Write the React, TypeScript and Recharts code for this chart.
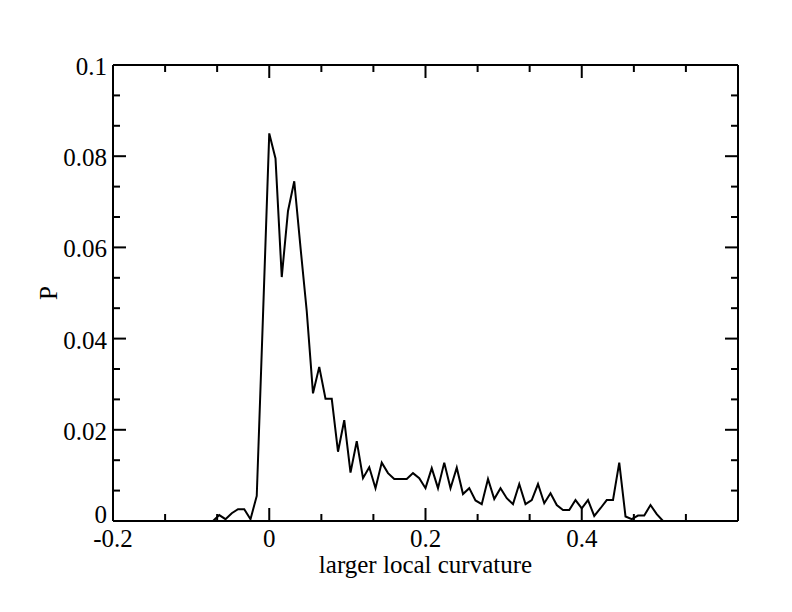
import { LineChart, Line, XAxis, YAxis } from "recharts";

// curvature bin centres (x) and probability (P)
const CURVATURE = [
  -0.072, -0.064, -0.056, -0.048, -0.04, -0.032, -0.024, -0.016, -0.008, 0,
  0.008, 0.016, 0.024, 0.032, 0.04, 0.048, 0.056, 0.064, 0.072, 0.08,
  0.088, 0.096, 0.104, 0.112, 0.12, 0.128, 0.136, 0.144, 0.152, 0.16,
  0.168, 0.176, 0.184, 0.192, 0.2, 0.208, 0.216, 0.224, 0.232, 0.24,
  0.248, 0.256, 0.264, 0.272, 0.28, 0.288, 0.296, 0.304, 0.312, 0.32,
  0.328, 0.336, 0.344, 0.352, 0.36, 0.368, 0.376, 0.384, 0.392, 0.4,
  0.408, 0.416, 0.424, 0.432, 0.44, 0.448, 0.456, 0.464, 0.472, 0.48,
  0.488, 0.496, 0.504,
];

const PROB = [
  0, 0.0013, 0.0004, 0.0017, 0.0026, 0.0026, 0.0004, 0.0055, 0.045, 0.085,
  0.0795, 0.0535, 0.068, 0.0745, 0.06, 0.046, 0.028, 0.0338, 0.0268, 0.0268,
  0.0152, 0.0221, 0.0106, 0.0175, 0.0094, 0.0118, 0.0072, 0.0128, 0.0105, 0.0092,
  0.0092, 0.0092, 0.0105, 0.0094, 0.0072, 0.0116, 0.0072, 0.0128, 0.0072, 0.0117,
  0.0059, 0.0072, 0.0045, 0.0037, 0.0092, 0.0048, 0.0072, 0.005, 0.0037, 0.0081,
  0.0037, 0.0046, 0.0081, 0.0039, 0.0061, 0.0035, 0.0024, 0.0024, 0.0046, 0.0028,
  0.0046, 0.0011, 0.0028, 0.0046, 0.0046, 0.0128, 0.001, 0.0004, 0.0012, 0.0012,
  0.0035, 0.0015, 0,
];

// major (labelled) and minor ticks
const X_MAJOR = [-0.2, 0, 0.2, 0.4];
const X_MAJOR_LABELS = ["-0.2", "0", "0.2", "0.4"];
const X_MINOR = [-0.1333, -0.0667, 0.0667, 0.1333, 0.2667, 0.3333, 0.4667, 0.5333];

const Y_MAJOR = [0, 0.02, 0.04, 0.06, 0.08, 0.1];
const Y_MAJOR_LABELS = ["0", "0.02", "0.04", "0.06", "0.08", "0.1"];
const Y_MINOR = [
  0.00667, 0.01333, 0.02667, 0.03333, 0.04667, 0.05333, 0.06667, 0.07333,
  0.08667, 0.09333,
];

const data = CURVATURE.map((x, i) => ({ x, p: PROB[i] }));

const FONT = "'Liberation Serif', 'Times New Roman', serif";
const FONT_SIZE = 25;
const MAJOR_LEN = 13;
const MINOR_LEN = 7;
const AXIS_LINE = { stroke: "#000", strokeWidth: 2 };

const X_TICKS = [...X_MAJOR, ...X_MINOR].sort((a, b) => a - b);
const Y_TICKS = [...Y_MAJOR, ...Y_MINOR].sort((a, b) => a - b);

function majorIndex(list: number[], v: number) {
  return list.findIndex((m) => Math.abs(m - v) < 1e-9);
}

// ticks point into the plot, like xmgrace
function XTick(props: any) {
  const { x, y, payload, side } = props;
  const idx = majorIndex(X_MAJOR, payload.value);
  const len = idx >= 0 ? MAJOR_LEN : MINOR_LEN;
  const dir = side === "top" ? 1 : -1;
  return (
    <g>
      <line x1={x} y1={y} x2={x} y2={y + dir * len} stroke="#000" strokeWidth={2} />
      {side === "bottom" && idx >= 0 && (
        <text x={x} y={y + 26} textAnchor="middle" fontSize={FONT_SIZE} fontFamily={FONT} fill="#000">
          {X_MAJOR_LABELS[idx]}
        </text>
      )}
    </g>
  );
}

function YTick(props: any) {
  const { x, y, payload, side } = props;
  const idx = majorIndex(Y_MAJOR, payload.value);
  const len = idx >= 0 ? MAJOR_LEN : MINOR_LEN;
  const dir = side === "left" ? 1 : -1;
  return (
    <g>
      <line x1={x} y1={y} x2={x + dir * len} y2={y} stroke="#000" strokeWidth={2} />
      {side === "left" && idx >= 0 && (
        <text
          x={x - 6}
          y={payload.value === 0 ? y + 2 : y + 10}
          textAnchor="end"
          fontSize={FONT_SIZE}
          fontFamily={FONT}
          fill="#000"
        >
          {Y_MAJOR_LABELS[idx]}
        </text>
      )}
    </g>
  );
}

function XTitle(props: any) {
  const { x, y, width } = props.viewBox;
  return (
    <text x={x + width / 2} y={y + 52} textAnchor="middle" fontSize={FONT_SIZE} fontFamily={FONT} fill="#000">
      larger local curvature
    </text>
  );
}

function YTitle(props: any) {
  const { y, height } = props.viewBox;
  const cx = 49;
  const cy = y + height / 2;
  return (
    <text
      x={cx}
      y={cy}
      transform={`rotate(-90, ${cx}, ${cy})`}
      textAnchor="middle"
      fontSize={FONT_SIZE}
      fontFamily={FONT}
      fill="#000"
    >
      P
    </text>
  );
}

export default function App() {
  return (
    <div style={{ width: 776, height: 596, background: "#fff" }}>
      <LineChart
        width={776}
        height={596}
        data={data}
        margin={{ top: 56, right: 45, bottom: 0, left: 0 }}
      >
        <XAxis
          dataKey="x"
          type="number"
          domain={[-0.2, 0.6]}
          allowDataOverflow
          ticks={X_TICKS}
          interval={0}
          height={83}
          tickSize={0}
          tickMargin={0}
          tickLine={false}
          axisLine={AXIS_LINE}
          tick={<XTick side="bottom" />}
          label={XTitle}
        />
        <XAxis
          xAxisId="top"
          dataKey="x"
          orientation="top"
          type="number"
          domain={[-0.2, 0.6]}
          allowDataOverflow
          ticks={X_TICKS}
          interval={0}
          height={1}
          tickSize={0}
          tickMargin={0}
          tickLine={false}
          axisLine={AXIS_LINE}
          tick={<XTick side="top" />}
        />
        <YAxis
          type="number"
          domain={[0, 0.1]}
          allowDataOverflow
          ticks={Y_TICKS}
          interval={0}
          width={105}
          tickSize={0}
          tickMargin={0}
          tickLine={false}
          axisLine={AXIS_LINE}
          tick={<YTick side="left" />}
          label={YTitle}
        />
        <YAxis
          yAxisId="right"
          orientation="right"
          type="number"
          domain={[0, 0.1]}
          allowDataOverflow
          ticks={Y_TICKS}
          interval={0}
          width={1}
          tickSize={0}
          tickMargin={0}
          tickLine={false}
          axisLine={AXIS_LINE}
          tick={<YTick side="right" />}
        />
        {/* invisible copy so the mirrored top/right axes get drawn */}
        <Line
          xAxisId="top"
          yAxisId="right"
          type="linear"
          dataKey="p"
          stroke="none"
          dot={false}
          legendType="none"
          isAnimationActive={false}
        />
        <Line
          type="linear"
          dataKey="p"
          stroke="#000"
          strokeWidth={2}
          dot={false}
          isAnimationActive={false}
        />
      </LineChart>
    </div>
  );
}
